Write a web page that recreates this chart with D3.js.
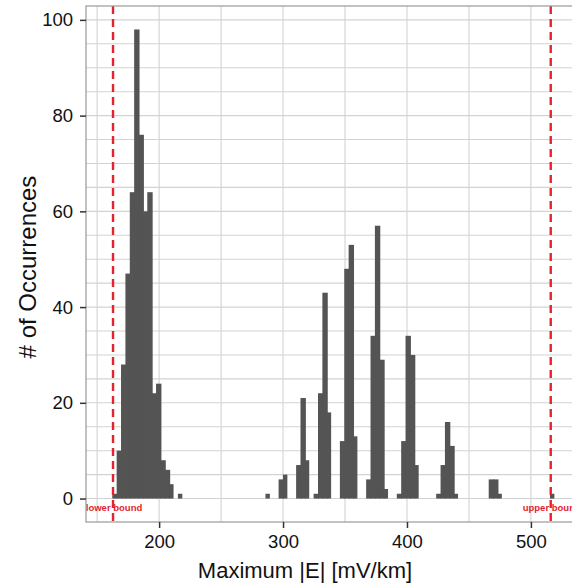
<!DOCTYPE html>
<html lang="en">
<head>
    <meta charset="UTF-8">
    <title>Maximum |E| histogram</title>
    <script src="https://cdn.jsdelivr.net/npm/d3@7"></script>
    <style>
        body{margin:0;background:#fff}
        text{font-family:"Liberation Sans",Arial,sans-serif}
    </style>
</head>
<body>
<div class="chart"></div>
<script>
    //data: histogram counts, bin index -> count (all other bins are 0)
    const binStart=162.2
    const binWidth=3.532
    const binCount=101
    const binIndex=[0,1,2,3,4,5,6,7,8,9,10,11,12,13,15,
        35,38,39,42,43,44,46,47,48,49,52,53,54,55,
        58,59,60,61,62,65,66,67,68,69,74,75,76,77,78,
        86,87,88,100]
    const binValue=[1,10,28,47,64,98,76,60,64,22,24,8,6,3,1,
        1,4,5,7,21,8,1,22,43,18,12,48,53,13,
        4,34,57,29,2,1,12,34,30,7,1,7,16,11,1,
        4,4,1,1]
    const bounds=[162.8,516]
    const boundNames=['lower bound','upper bound']
    const xTicks=[200,300,400,500]
    const yTicks=[0,20,40,60,80,100]

    let bins=d3.range(binCount).map(i=>({x0:binStart+i*binWidth,x1:binStart+(i+1)*binWidth,n:0}))
    binIndex.forEach((b,i)=>bins[b].n=binValue[i])

    //init
    let W=572,H=584
    let pLeft=86,pRight=578,pTop=6,pBottom=522
    let svg=d3.select('.chart').append('svg').attr('width',W).attr('height',H)
    let xScale=d3.scaleLinear().domain([141,538]).range([pLeft,pRight])
    let yScale=d3.scaleLinear().domain([-4.9,102.9]).range([pBottom,pTop])

    svg.append('defs').append('clipPath').attr('id','panel')
        .append('rect').attr('x',pLeft).attr('y',pTop).attr('width',pRight-pLeft).attr('height',pBottom-pTop)

    //panel + grid
    svg.append('rect').attr('x',pLeft).attr('y',pTop).attr('width',pRight-pLeft).attr('height',pBottom-pTop).attr('fill','#fff')
    let grid=svg.append('g').attr('stroke','#d3d3d3').attr('stroke-width',1.1)
    d3.range(0,101,5).forEach(v=>grid.append('line').attr('x1',pLeft).attr('x2',pRight)
        .attr('y1',yScale(v)).attr('y2',yScale(v)))
    d3.range(150,538,50).forEach(v=>grid.append('line').attr('y1',pTop).attr('y2',pBottom)
        .attr('x1',xScale(v)).attr('x2',xScale(v)))

    //bars (slightly overlapped so neighbours join without seams)
    svg.append('g').attr('clip-path','url(#panel)').selectAll('rect').data(bins.filter(d=>d.n>0))
        .enter().append('rect')
        .attr('x',d=>xScale(d.x0)).attr('width',d=>xScale(d.x1)-xScale(d.x0)+(bins[bins.indexOf(d)+1]&&bins[bins.indexOf(d)+1].n>0?1:0))
        .attr('y',d=>yScale(d.n)).attr('height',d=>yScale(0)-yScale(d.n))
        .attr('fill','#545454')

    //bounds
    let bg=svg.append('g').attr('clip-path','url(#panel)')
    bg.selectAll('line').data(bounds).enter().append('line')
        .attr('x1',d=>xScale(d)).attr('x2',d=>xScale(d)).attr('y1',pTop).attr('y2',pBottom)
        .attr('stroke','#e3242f').attr('stroke-width',2.4).attr('stroke-dasharray','8,5')
    bg.selectAll('text').data(bounds).enter().append('text')
        .attr('x',d=>xScale(d)+1).attr('y',yScale(-2.6)).attr('text-anchor','middle')
        .attr('fill','#e3242f').attr('font-size',9.5).attr('font-weight','bold')
        .text((d,i)=>boundNames[i])

    //border
    svg.append('rect').attr('x',pLeft).attr('y',pTop).attr('width',pRight-pLeft).attr('height',pBottom-pTop)
        .attr('fill','none').attr('stroke','#999').attr('stroke-width',1.2)

    //axis
    let xAxis=d3.axisBottom(xScale).tickValues(xTicks).tickSize(6).tickPadding(7)
    let yAxis=d3.axisLeft(yScale).tickValues(yTicks).tickSize(6).tickPadding(7)
    let gx=svg.append('g').attr('transform','translate(0,'+pBottom+')').call(xAxis)
    let gy=svg.append('g').attr('transform','translate('+pLeft+',0)').call(yAxis)
    ;[gx,gy].forEach(g=>{
        g.select('.domain').remove()
        g.selectAll('.tick line').attr('stroke','#333').attr('stroke-width',1.5)
        g.selectAll('.tick text').attr('font-size',18.5).attr('fill','#111')
            .style('font-family','"Liberation Sans",Arial,sans-serif')
    })

    //titles
    svg.append('text').attr('x',305).attr('y',578).attr('text-anchor','middle')
        .attr('font-size',22).attr('fill','#111').text('Maximum |E| [mV/km]')
    svg.append('text').attr('transform','translate(36,267) rotate(-90)').attr('text-anchor','middle')
        .attr('font-size',24).attr('fill','#111').text('# of Occurrences')
</script>
</body>
</html>
